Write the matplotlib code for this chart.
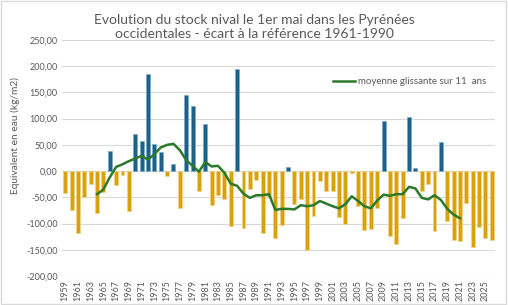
import numpy as np
import matplotlib.pyplot as plt
from matplotlib.patches import Rectangle

plt.rcParams['font.family'] = ['Lato', 'DejaVu Sans']

years = list(range(1959, 2027))
ecart = [-41, -74, -118, -50, -24, -80, -40, 38, -27, -8,
         -76, 71, 58, 185, 51, 36, -10, 13, -70, 146,
         124, -37, 90, -65, -45, -53, -105, 194, -109, -35,
         -16, -118, -49, -127, -103, 8, -63, -53, -150, -85,
         -19, -38, -38, -88, -101, -4, -67, -112, -111, -70,
         96, -123, -139, -90, 104, 6, -38, -25, -115, 55,
         -96, -131, -133, -60, -144, -106, -128, -131]

ma_years = list(range(1964, 2022))
moyenne = [-44, -35, -12, 8, 13, 19, 24, 29, 22, 32,
           45, 50, 52, 40, 21, 10, -1, 17, 9, 10,
           -3, -24, -28, -43, -51, -46, -46, -44, -74, -72,
           -72, -73, -65, -67, -65, -57, -62, -67, -71, -63,
           -48, -57, -67, -71, -56, -45, -47, -44, -44, -30,
           -33, -51, -54, -46, -55, -72, -83, -90]

yticks = np.arange(-200, 251, 50)
ytick_labels = [f"{v:.2f}".replace('.', ',') for v in yticks]

txt = '#595959'
blue = '#1b6189'
gold = '#d9a20a'

fig = plt.figure(figsize=(5.08, 3.05), dpi=100)
ax = fig.add_axes([62 / 508, 1 - 276 / 305, (495 - 62) / 508, (276 - 40) / 305])

vals = np.array(ecart)
cols = [blue if v > 0 else gold for v in vals]
edges = ['#7fa9c4' if v > 0 else '#f0d48a' for v in vals]
ax.bar(years, vals, width=0.62, color=cols, edgecolor=edges, linewidth=0.5, zorder=2)
ax.plot(ma_years, moyenne, color='#2b7a2b', linewidth=1.8, zorder=3,
        label='moyenne glissante sur 11  ans')

ax.set_xlim(1958.5, 2026.5)
ax.set_ylim(-200, 250)
ax.set_yticks(yticks)
ax.set_yticklabels(ytick_labels, fontsize=6.5, color=txt)
ax.set_xticks(years[::2])
ax.set_xticklabels([str(y) for y in years[::2]], rotation=90, fontsize=6.5, color=txt)
ax.tick_params(axis='both', length=0, pad=3)
ax.grid(axis='y', color='#d9d9d9', linewidth=0.8, zorder=0)
for s in ax.spines.values():
    s.set_visible(False)

ax.legend(loc='upper right', bbox_to_anchor=(1.0, 0.88), frameon=False, fontsize=7,
          labelcolor=txt, handlelength=2.3, handletextpad=0.3)

fig.text(254 / 508, 1 - 27 / 305,
         "Evolution du stock nival le 1er mai dans les Pyrénées\noccidentales - écart à la référence 1961-1990",
         ha='center', va='center', fontsize=10, color=txt, linespacing=1.2)
fig.text(15 / 508, 1 - 135 / 305, "Equivalent en eau (kg/m2)", rotation=90,
         ha='center', va='center', fontsize=7.3, color=txt)

fig.patches.append(Rectangle((0.002, 0.003), 0.995, 0.993, transform=fig.transFigure,
                             fill=False, edgecolor='#d9d9d9', linewidth=1))

fig.savefig("out.png", dpi=100)
